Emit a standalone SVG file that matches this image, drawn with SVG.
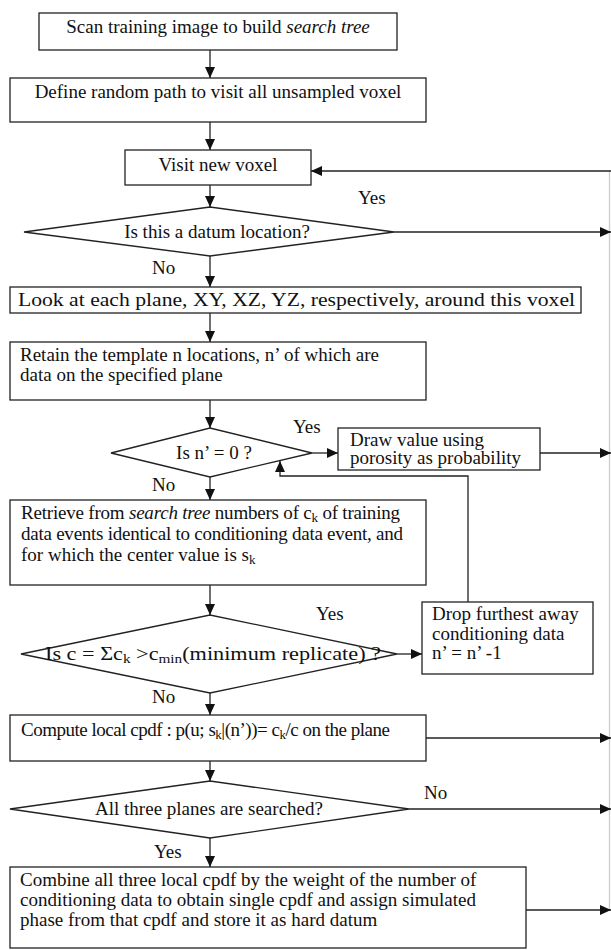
<svg xmlns="http://www.w3.org/2000/svg" width="611" height="950" viewBox="0 0 611 950">
<style>
.b{fill:#fff;stroke:#222;stroke-width:1.3}
.t{font-family:"Liberation Serif","Times New Roman",serif;font-size:19px;fill:#111}
.c{text-anchor:middle}
.l{fill:none;stroke:#222;stroke-width:1.3}
.s{font-size:13px}
</style>
<defs>
<marker id="a" markerUnits="userSpaceOnUse" markerWidth="12" markerHeight="10" refX="11" refY="5" orient="auto">
<path d="M0,0 L11,5 L0,10 Z" fill="#111"/>
</marker>
</defs>
<rect width="611" height="950" fill="#fff"/>
<g id="connectors">
<line class="l" x1="609.5" y1="171" x2="609.5" y2="910" style="stroke:#ccc"/>
<line class="l" x1="210" y1="50" x2="210" y2="78" marker-end="url(#a)"/>
<line class="l" x1="210" y1="122" x2="210" y2="150" marker-end="url(#a)"/>
<line class="l" x1="611" y1="171" x2="311" y2="171" marker-end="url(#a)"/>
<line class="l" x1="210" y1="185" x2="210" y2="207" marker-end="url(#a)"/>
<line class="l" x1="394" y1="232" x2="611" y2="232" marker-end="url(#a)"/>
<line class="l" x1="210" y1="256" x2="210" y2="287" marker-end="url(#a)"/>
<line class="l" x1="210" y1="313" x2="210" y2="342" marker-end="url(#a)"/>
<line class="l" x1="210" y1="400" x2="210" y2="428" marker-end="url(#a)"/>
<line class="l" x1="312" y1="453" x2="338" y2="453" marker-end="url(#a)"/>
<line class="l" x1="540" y1="453" x2="611" y2="453" marker-end="url(#a)"/>
<line class="l" x1="210" y1="477" x2="210" y2="500" marker-end="url(#a)"/>
<polyline class="l" points="468,602 468,476 280,476 280,461" marker-end="url(#a)"/>
<line class="l" x1="210" y1="585" x2="210" y2="615" marker-end="url(#a)"/>
<line class="l" x1="397" y1="654" x2="422" y2="654" marker-end="url(#a)"/>
<line class="l" x1="210" y1="693" x2="210" y2="715" marker-end="url(#a)"/>
<line class="l" x1="426" y1="738" x2="611" y2="738" marker-end="url(#a)"/>
<line class="l" x1="210" y1="761" x2="210" y2="781" marker-end="url(#a)"/>
<line class="l" x1="409" y1="809" x2="611" y2="809" marker-end="url(#a)"/>
<line class="l" x1="210" y1="838" x2="210" y2="867" marker-end="url(#a)"/>
<line class="l" x1="526" y1="910" x2="611" y2="910" marker-end="url(#a)"/>
<text class="t" x="358" y="204">Yes</text>
<text class="t" x="152" y="274">No</text>
<text class="t" x="293" y="433">Yes</text>
<text class="t" x="152" y="491">No</text>
<text class="t" x="316" y="620">Yes</text>
<text class="t" x="152" y="703">No</text>
<text class="t" x="424" y="799">No</text>
<text class="t" x="154" y="858">Yes</text>
</g>
<g id="scan">
<rect class="b" x="39" y="13" width="358" height="37"/>
<text class="t c" x="218" y="33">Scan training image to build <tspan font-style="italic">search tree</tspan></text>
</g>
<g id="define">
<rect class="b" x="10" y="78" width="416" height="44"/>
<text class="t c" x="218" y="98">Define random path to visit all unsampled voxel</text>
</g>
<g id="visit">
<rect class="b" x="125" y="150" width="186" height="35"/>
<text class="t c" x="218" y="171">Visit new voxel</text>
</g>
<g id="datum">
<polygon class="b" points="24,232 210,207 394,232 210,256"/>
<text class="t c" x="217" y="238">Is this a datum location?</text>
</g>
<g id="look">
<rect class="b" x="10" y="287" width="571" height="26"/>
<text class="t" x="18" y="306" textLength="557" lengthAdjust="spacingAndGlyphs">Look at each plane, XY, XZ, YZ, respectively, around this voxel</text>
</g>
<g id="retain">
<rect class="b" x="10" y="342" width="416" height="58"/>
<text class="t" x="20" y="361">Retain the template n locations, n’ of which are</text>
<text class="t" x="20" y="381">data on the specified plane</text>
</g>
<g id="n0">
<polygon class="b" points="111,453 210,428 312,453 210,477"/>
<text class="t c" x="214" y="459">Is n’ = 0 ?</text>
</g>
<g id="draw">
<rect class="b" x="338" y="428" width="202" height="42"/>
<text class="t" x="350" y="446">Draw value using</text>
<text class="t" x="350" y="464">porosity as probability</text>
</g>
<g id="retrieve">
<rect class="b" x="10" y="500" width="416" height="85"/>
<text class="t" x="21" y="519" textLength="379" lengthAdjust="spacing">Retrieve from <tspan font-style="italic">search tree</tspan> numbers of c<tspan class="s" dy="3">k</tspan><tspan dy="-3"> of training</tspan></text>
<text class="t" x="21" y="540" textLength="382" lengthAdjust="spacing">data events identical to conditioning data event, and</text>
<text class="t" x="21" y="561">for which the center value is s<tspan class="s" dy="3">k</tspan></text>
</g>
<g id="cmin">
<polygon class="b" points="21,654 210,615 397,654 210,693"/>
<text class="t" x="45" y="660" textLength="336" lengthAdjust="spacingAndGlyphs">Is c = Σc<tspan class="s" dy="3">k</tspan><tspan dy="-3"> &gt;c</tspan><tspan class="s" dy="3">min</tspan><tspan dy="-3">(minimum replicate) ?</tspan></text>
</g>
<g id="drop">
<rect class="b" x="422" y="602" width="171" height="72"/>
<text class="t" x="432" y="620">Drop furthest away</text>
<text class="t" x="432" y="640">conditioning data</text>
<text class="t" x="432" y="659">n’ = n’ -1</text>
</g>
<g id="compute">
<rect class="b" x="10" y="715" width="416" height="46"/>
<text class="t" x="21" y="736" textLength="369" lengthAdjust="spacing">Compute local cpdf : p(u; s<tspan class="s" dy="3">k</tspan><tspan dy="-3">|(n’))= c</tspan><tspan class="s" dy="3">k</tspan><tspan dy="-3">/c on the plane</tspan></text>
</g>
<g id="planes">
<polygon class="b" points="10,809 210,781 409,809 210,838"/>
<text class="t c" x="209" y="815">All three planes are searched?</text>
</g>
<g id="combine">
<rect class="b" x="10" y="867" width="516" height="81"/>
<text class="t" x="20" y="886">Combine all three local cpdf by the weight of the number of</text>
<text class="t" x="20" y="906">conditioning data to obtain single cpdf and assign simulated</text>
<text class="t" x="20" y="926">phase from that cpdf and store it as hard datum</text>
</g>
</svg>
